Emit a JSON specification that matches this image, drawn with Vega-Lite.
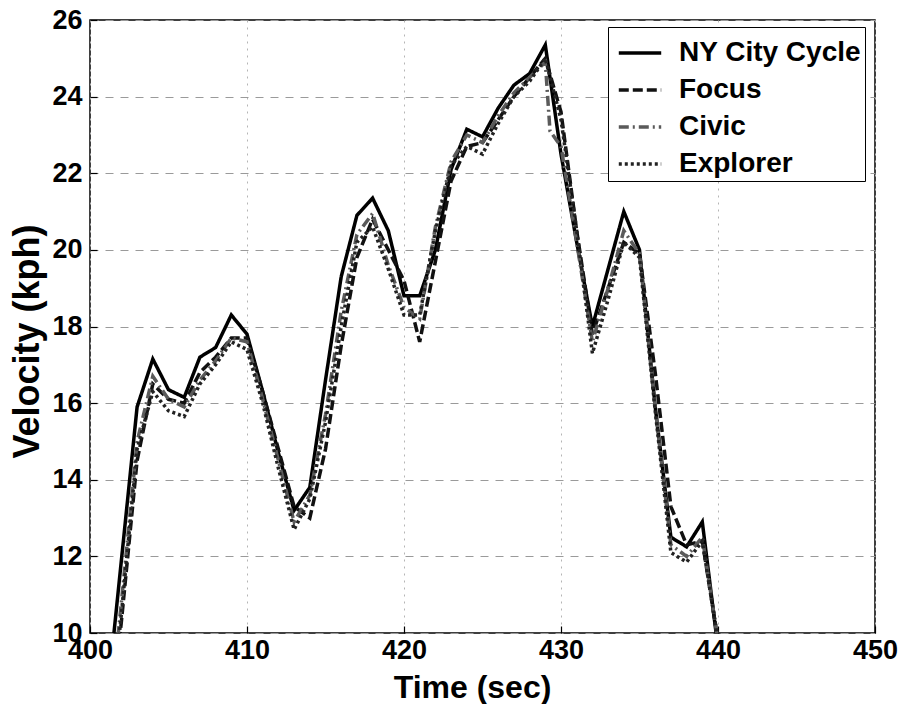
{
  "$schema": "https://vega.github.io/schema/vega-lite/v6.json",
  "width": 785,
  "height": 613,
  "autosize": {"type": "none"},
  "padding": {"left": 90, "top": 20, "right": 27, "bottom": 71},
  "background": "#ffffff",
  "config": {
    "font": "Liberation Sans",
    "view": {"stroke": "#000000", "strokeWidth": 1.5},
    "axis": {
      "domain": false,
      "labelFont": "Liberation Sans",
      "labelFontSize": 27,
      "labelFontWeight": "bold",
      "labelColor": "#000000",
      "titleFont": "Liberation Sans",
      "titleFontWeight": "bold",
      "titleColor": "#000000",
      "tickColor": "#000000",
      "tickWidth": 1.2,
      "tickSize": -7,
      "gridColor": "#9a9a9a",
      "gridWidth": 1
    }
  },
  "data": {
    "values": [
      {"t": 401, "v": 7.9, "s": "NY City Cycle"},
      {"t": 402, "v": 11.9, "s": "NY City Cycle"},
      {"t": 403, "v": 15.9, "s": "NY City Cycle"},
      {"t": 404, "v": 17.15, "s": "NY City Cycle"},
      {"t": 405, "v": 16.35, "s": "NY City Cycle"},
      {"t": 406, "v": 16.15, "s": "NY City Cycle"},
      {"t": 407, "v": 17.2, "s": "NY City Cycle"},
      {"t": 408, "v": 17.45, "s": "NY City Cycle"},
      {"t": 409, "v": 18.3, "s": "NY City Cycle"},
      {"t": 410, "v": 17.8, "s": "NY City Cycle"},
      {"t": 411, "v": 16.3, "s": "NY City Cycle"},
      {"t": 412, "v": 14.7, "s": "NY City Cycle"},
      {"t": 413, "v": 13.2, "s": "NY City Cycle"},
      {"t": 414, "v": 13.8, "s": "NY City Cycle"},
      {"t": 415, "v": 16.6, "s": "NY City Cycle"},
      {"t": 416, "v": 19.3, "s": "NY City Cycle"},
      {"t": 417, "v": 20.9, "s": "NY City Cycle"},
      {"t": 418, "v": 21.35, "s": "NY City Cycle"},
      {"t": 419, "v": 20.5, "s": "NY City Cycle"},
      {"t": 420, "v": 18.8, "s": "NY City Cycle"},
      {"t": 421, "v": 18.8, "s": "NY City Cycle"},
      {"t": 422, "v": 20.0, "s": "NY City Cycle"},
      {"t": 423, "v": 22.1, "s": "NY City Cycle"},
      {"t": 424, "v": 23.15, "s": "NY City Cycle"},
      {"t": 425, "v": 22.95, "s": "NY City Cycle"},
      {"t": 426, "v": 23.7, "s": "NY City Cycle"},
      {"t": 427, "v": 24.3, "s": "NY City Cycle"},
      {"t": 428, "v": 24.6, "s": "NY City Cycle"},
      {"t": 429, "v": 25.35, "s": "NY City Cycle"},
      {"t": 430, "v": 22.5, "s": "NY City Cycle"},
      {"t": 431, "v": 20.2, "s": "NY City Cycle"},
      {"t": 432, "v": 18.0, "s": "NY City Cycle"},
      {"t": 433, "v": 19.5, "s": "NY City Cycle"},
      {"t": 434, "v": 21.0, "s": "NY City Cycle"},
      {"t": 435, "v": 20.0, "s": "NY City Cycle"},
      {"t": 436, "v": 15.9, "s": "NY City Cycle"},
      {"t": 437, "v": 12.5, "s": "NY City Cycle"},
      {"t": 438, "v": 12.25, "s": "NY City Cycle"},
      {"t": 439, "v": 12.9, "s": "NY City Cycle"},
      {"t": 440, "v": 9.6, "s": "NY City Cycle"},

      {"t": 401, "v": 6.5, "s": "Focus"},
      {"t": 402, "v": 10.3, "s": "Focus"},
      {"t": 403, "v": 14.5, "s": "Focus"},
      {"t": 404, "v": 16.5, "s": "Focus"},
      {"t": 405, "v": 16.1, "s": "Focus"},
      {"t": 406, "v": 16.0, "s": "Focus"},
      {"t": 407, "v": 16.8, "s": "Focus"},
      {"t": 408, "v": 17.2, "s": "Focus"},
      {"t": 409, "v": 17.7, "s": "Focus"},
      {"t": 410, "v": 17.7, "s": "Focus"},
      {"t": 411, "v": 16.3, "s": "Focus"},
      {"t": 412, "v": 14.8, "s": "Focus"},
      {"t": 413, "v": 13.3, "s": "Focus"},
      {"t": 414, "v": 13.0, "s": "Focus"},
      {"t": 415, "v": 14.8, "s": "Focus"},
      {"t": 416, "v": 17.5, "s": "Focus"},
      {"t": 417, "v": 19.8, "s": "Focus"},
      {"t": 418, "v": 20.8, "s": "Focus"},
      {"t": 419, "v": 20.0, "s": "Focus"},
      {"t": 420, "v": 19.2, "s": "Focus"},
      {"t": 421, "v": 17.6, "s": "Focus"},
      {"t": 422, "v": 19.7, "s": "Focus"},
      {"t": 423, "v": 21.8, "s": "Focus"},
      {"t": 424, "v": 22.7, "s": "Focus"},
      {"t": 425, "v": 22.8, "s": "Focus"},
      {"t": 426, "v": 23.4, "s": "Focus"},
      {"t": 427, "v": 24.0, "s": "Focus"},
      {"t": 428, "v": 24.5, "s": "Focus"},
      {"t": 429, "v": 25.0, "s": "Focus"},
      {"t": 430, "v": 23.6, "s": "Focus"},
      {"t": 431, "v": 20.5, "s": "Focus"},
      {"t": 432, "v": 17.8, "s": "Focus"},
      {"t": 433, "v": 19.0, "s": "Focus"},
      {"t": 434, "v": 20.2, "s": "Focus"},
      {"t": 435, "v": 19.9, "s": "Focus"},
      {"t": 436, "v": 16.8, "s": "Focus"},
      {"t": 437, "v": 13.3, "s": "Focus"},
      {"t": 438, "v": 12.3, "s": "Focus"},
      {"t": 439, "v": 12.4, "s": "Focus"},
      {"t": 440, "v": 9.8, "s": "Focus"},

      {"t": 401, "v": 6.8, "s": "Civic"},
      {"t": 402, "v": 10.8, "s": "Civic"},
      {"t": 403, "v": 15.0, "s": "Civic"},
      {"t": 404, "v": 16.7, "s": "Civic"},
      {"t": 405, "v": 16.1, "s": "Civic"},
      {"t": 406, "v": 15.9, "s": "Civic"},
      {"t": 407, "v": 16.6, "s": "Civic"},
      {"t": 408, "v": 17.1, "s": "Civic"},
      {"t": 409, "v": 17.7, "s": "Civic"},
      {"t": 410, "v": 17.6, "s": "Civic"},
      {"t": 411, "v": 16.1, "s": "Civic"},
      {"t": 412, "v": 14.5, "s": "Civic"},
      {"t": 413, "v": 12.9, "s": "Civic"},
      {"t": 414, "v": 13.6, "s": "Civic"},
      {"t": 415, "v": 15.7, "s": "Civic"},
      {"t": 416, "v": 18.4, "s": "Civic"},
      {"t": 417, "v": 20.4, "s": "Civic"},
      {"t": 418, "v": 20.95, "s": "Civic"},
      {"t": 419, "v": 19.6, "s": "Civic"},
      {"t": 420, "v": 18.5, "s": "Civic"},
      {"t": 421, "v": 18.2, "s": "Civic"},
      {"t": 422, "v": 20.6, "s": "Civic"},
      {"t": 423, "v": 22.3, "s": "Civic"},
      {"t": 424, "v": 23.0, "s": "Civic"},
      {"t": 425, "v": 22.8, "s": "Civic"},
      {"t": 426, "v": 23.5, "s": "Civic"},
      {"t": 427, "v": 24.1, "s": "Civic"},
      {"t": 428, "v": 24.5, "s": "Civic"},
      {"t": 429, "v": 24.9, "s": "Civic"},
      {"t": 429.3, "v": 23.1, "s": "Civic"},
      {"t": 430, "v": 22.7, "s": "Civic"},
      {"t": 431, "v": 20.2, "s": "Civic"},
      {"t": 432, "v": 17.6, "s": "Civic"},
      {"t": 433, "v": 19.0, "s": "Civic"},
      {"t": 434, "v": 20.5, "s": "Civic"},
      {"t": 435, "v": 19.9, "s": "Civic"},
      {"t": 436, "v": 15.9, "s": "Civic"},
      {"t": 437, "v": 12.3, "s": "Civic"},
      {"t": 438, "v": 12.0, "s": "Civic"},
      {"t": 439, "v": 12.5, "s": "Civic"},
      {"t": 440, "v": 9.8, "s": "Civic"},

      {"t": 401, "v": 6.5, "s": "Explorer"},
      {"t": 402, "v": 10.5, "s": "Explorer"},
      {"t": 403, "v": 14.8, "s": "Explorer"},
      {"t": 404, "v": 16.3, "s": "Explorer"},
      {"t": 405, "v": 15.8, "s": "Explorer"},
      {"t": 406, "v": 15.65, "s": "Explorer"},
      {"t": 407, "v": 16.5, "s": "Explorer"},
      {"t": 408, "v": 17.0, "s": "Explorer"},
      {"t": 409, "v": 17.6, "s": "Explorer"},
      {"t": 410, "v": 17.4, "s": "Explorer"},
      {"t": 411, "v": 16.0, "s": "Explorer"},
      {"t": 412, "v": 14.3, "s": "Explorer"},
      {"t": 413, "v": 12.7, "s": "Explorer"},
      {"t": 414, "v": 13.5, "s": "Explorer"},
      {"t": 415, "v": 15.5, "s": "Explorer"},
      {"t": 416, "v": 18.0, "s": "Explorer"},
      {"t": 417, "v": 20.2, "s": "Explorer"},
      {"t": 418, "v": 20.6, "s": "Explorer"},
      {"t": 419, "v": 19.5, "s": "Explorer"},
      {"t": 420, "v": 18.3, "s": "Explorer"},
      {"t": 421, "v": 18.3, "s": "Explorer"},
      {"t": 422, "v": 20.5, "s": "Explorer"},
      {"t": 423, "v": 22.2, "s": "Explorer"},
      {"t": 424, "v": 22.7, "s": "Explorer"},
      {"t": 425, "v": 22.5, "s": "Explorer"},
      {"t": 426, "v": 23.3, "s": "Explorer"},
      {"t": 427, "v": 24.0, "s": "Explorer"},
      {"t": 428, "v": 24.4, "s": "Explorer"},
      {"t": 429, "v": 25.0, "s": "Explorer"},
      {"t": 430, "v": 23.4, "s": "Explorer"},
      {"t": 431, "v": 20.5, "s": "Explorer"},
      {"t": 432, "v": 17.3, "s": "Explorer"},
      {"t": 433, "v": 18.7, "s": "Explorer"},
      {"t": 434, "v": 20.2, "s": "Explorer"},
      {"t": 435, "v": 19.8, "s": "Explorer"},
      {"t": 436, "v": 15.8, "s": "Explorer"},
      {"t": 437, "v": 12.1, "s": "Explorer"},
      {"t": 438, "v": 11.85, "s": "Explorer"},
      {"t": 439, "v": 12.4, "s": "Explorer"},
      {"t": 440, "v": 9.8, "s": "Explorer"}
    ]
  },
  "mark": {"type": "line", "clip": true, "strokeWidth": 3.5},
  "encoding": {
    "x": {
      "field": "t",
      "type": "quantitative",
      "scale": {"domain": [400, 450], "nice": false, "zero": false},
      "axis": {
        "title": "Time (sec)",
        "titleFontSize": 32,
        "titlePadding": 9,
        "titleX": 382,
        "values": [400, 410, 420, 430, 440, 450],
        "format": "d",
        "labelPadding": 11,
        "labelFlush": false,
        "labelOverlap": false,
        "gridDash": [2, 5],
        "gridColor": "#b5b5b5"
      }
    },
    "y": {
      "field": "v",
      "type": "quantitative",
      "scale": {"domain": [10, 26], "nice": false, "zero": false},
      "axis": {
        "title": "Velocity (kph)",
        "titleFontSize": 36,
        "titleX": -63,
        "titleY": 321,
        "titleBaseline": "middle",
        "values": [10, 12, 14, 16, 18, 20, 22, 24, 26],
        "labelPadding": 15,
        "labelFlush": false,
        "labelOverlap": false,
        "gridDash": [8, 7]
      }
    },
    "color": {
      "field": "s",
      "type": "nominal",
      "scale": {
        "domain": ["NY City Cycle", "Focus", "Civic", "Explorer"],
        "range": ["#000000", "#111111", "#5a5a5a", "#222222"]
      },
      "legend": {
        "title": null,
        "orient": "none",
        "legendX": 518,
        "legendY": 7,
        "strokeColor": "#000000",
        "fillColor": "#ffffff",
        "padding": 3,
        "symbolType": "stroke",
        "symbolSize": 1800,
        "symbolOffset": 6,
        "symbolStrokeWidth": 3.5,
        "labelFontSize": 28,
        "labelFontWeight": "bold",
        "labelColor": "#000000",
        "labelOffset": 16,
        "rowPadding": 0,
        "labelLimit": 400
      }
    },
    "strokeDash": {
      "field": "s",
      "type": "nominal",
      "scale": {
        "domain": ["NY City Cycle", "Focus", "Civic", "Explorer"],
        "range": [[1, 0], [10, 4], [10, 4, 2, 4], [3, 3]]
      },
      "legend": {
        "title": null,
        "orient": "none",
        "legendX": 518,
        "legendY": 7,
        "strokeColor": "#000000",
        "fillColor": "#ffffff",
        "padding": 3,
        "symbolType": "stroke",
        "symbolSize": 1800,
        "symbolOffset": 6,
        "symbolStrokeWidth": 3.5,
        "labelFontSize": 28,
        "labelFontWeight": "bold",
        "labelColor": "#000000",
        "labelOffset": 16,
        "rowPadding": 0,
        "labelLimit": 400
      }
    }
  }
}
